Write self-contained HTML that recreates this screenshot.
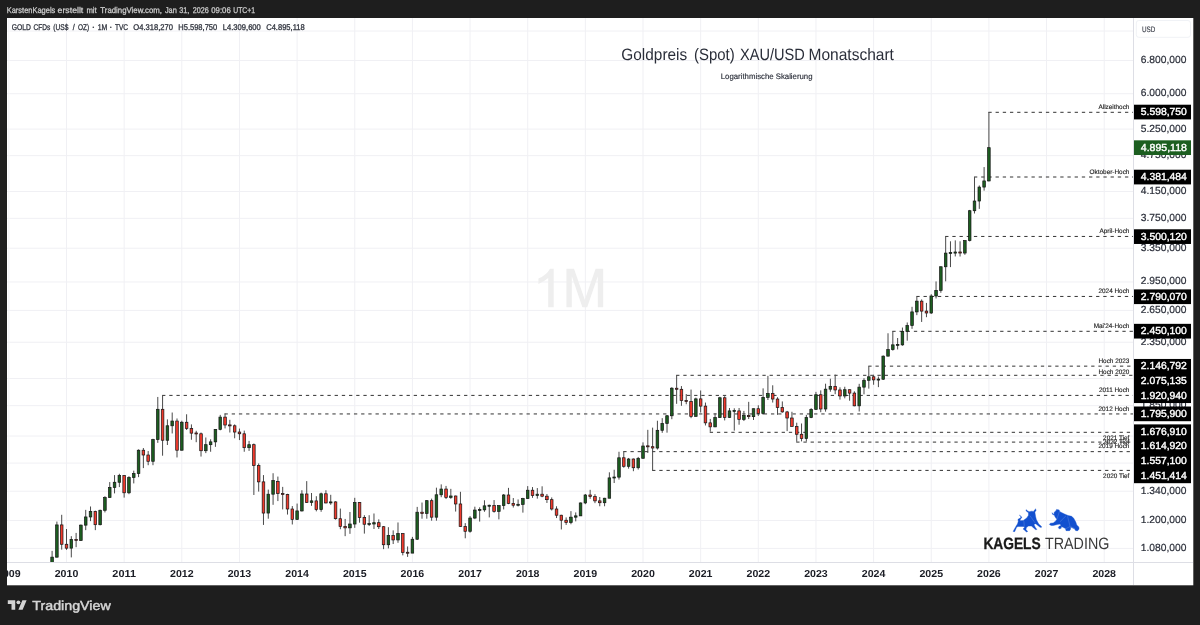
<!DOCTYPE html>
<html><head><meta charset="utf-8"><title>Goldpreis XAU/USD Monatschart</title>
<style>html,body{margin:0;padding:0;background:#1e1e1e;overflow:hidden}body{width:1200px;height:625px;font-family:"Liberation Sans",sans-serif}#wrap{width:1200px;height:625px;will-change:transform;transform:translateZ(0)}</style></head>
<body>
<div id="wrap">
<svg width="1200" height="625" viewBox="0 0 1200 625" style="display:block" text-rendering="geometricPrecision">
<rect x="0" y="0" width="1200" height="625" fill="#1e1e1e"/>
<rect x="7" y="18" width="1186.3" height="567.3" fill="#ffffff"/>
<defs><clipPath id="pane"><rect x="7" y="18" width="1126" height="544"/></clipPath><clipPath id="taxis"><rect x="7" y="562" width="1126" height="23"/></clipPath><clipPath id="paxis"><rect x="1134" y="18" width="59" height="544"/></clipPath></defs>
<g clip-path="url(#pane)">
<rect x="8.35" y="18" width="1" height="544" fill="#f0f0f4"/>
<rect x="66.00" y="18" width="1" height="544" fill="#f0f0f4"/>
<rect x="123.65" y="18" width="1" height="544" fill="#f0f0f4"/>
<rect x="181.30" y="18" width="1" height="544" fill="#f0f0f4"/>
<rect x="238.95" y="18" width="1" height="544" fill="#f0f0f4"/>
<rect x="296.60" y="18" width="1" height="544" fill="#f0f0f4"/>
<rect x="354.25" y="18" width="1" height="544" fill="#f0f0f4"/>
<rect x="411.90" y="18" width="1" height="544" fill="#f0f0f4"/>
<rect x="469.55" y="18" width="1" height="544" fill="#f0f0f4"/>
<rect x="527.20" y="18" width="1" height="544" fill="#f0f0f4"/>
<rect x="584.85" y="18" width="1" height="544" fill="#f0f0f4"/>
<rect x="642.50" y="18" width="1" height="544" fill="#f0f0f4"/>
<rect x="700.15" y="18" width="1" height="544" fill="#f0f0f4"/>
<rect x="757.80" y="18" width="1" height="544" fill="#f0f0f4"/>
<rect x="815.45" y="18" width="1" height="544" fill="#f0f0f4"/>
<rect x="873.10" y="18" width="1" height="544" fill="#f0f0f4"/>
<rect x="930.75" y="18" width="1" height="544" fill="#f0f0f4"/>
<rect x="988.40" y="18" width="1" height="544" fill="#f0f0f4"/>
<rect x="1046.05" y="18" width="1" height="544" fill="#f0f0f4"/>
<rect x="1103.70" y="18" width="1" height="544" fill="#f0f0f4"/>
<rect x="7" y="30.52" width="1126" height="1" fill="#f0f0f4"/>
<rect x="7" y="60.02" width="1126" height="1" fill="#f0f0f4"/>
<rect x="7" y="93.20" width="1126" height="1" fill="#f0f0f4"/>
<rect x="7" y="128.61" width="1126" height="1" fill="#f0f0f4"/>
<rect x="7" y="155.15" width="1126" height="1" fill="#f0f0f4"/>
<rect x="7" y="190.96" width="1126" height="1" fill="#f0f0f4"/>
<rect x="7" y="217.83" width="1126" height="1" fill="#f0f0f4"/>
<rect x="7" y="247.74" width="1126" height="1" fill="#f0f0f4"/>
<rect x="7" y="281.46" width="1126" height="1" fill="#f0f0f4"/>
<rect x="7" y="309.89" width="1126" height="1" fill="#f0f0f4"/>
<rect x="7" y="341.75" width="1126" height="1" fill="#f0f0f4"/>
<rect x="7" y="377.96" width="1126" height="1" fill="#f0f0f4"/>
<rect x="7" y="405.18" width="1126" height="1" fill="#f0f0f4"/>
<rect x="7" y="435.52" width="1126" height="1" fill="#f0f0f4"/>
<rect x="7" y="462.57" width="1126" height="1" fill="#f0f0f4"/>
<rect x="7" y="490.70" width="1126" height="1" fill="#f0f0f4"/>
<rect x="7" y="519.96" width="1126" height="1" fill="#f0f0f4"/>
<rect x="7" y="547.90" width="1126" height="1" fill="#f0f0f4"/>
<polygon points="566.40,307.20 566.40,268.80 574.00,268.80 584.80,299.70 595.60,268.80 603.20,268.80 603.20,307.20 597.80,307.20 597.80,276.30 587.20,307.20 582.40,307.20 571.80,276.30 571.80,307.20" fill="#eeeeee"/>
<path d="M548.2 307.2 V278.1 Q544 281.8 538.4 284.0 V278.6 Q546.5 275.3 550 268.8 H553.7 V307.2 Z" fill="#eeeeee"/>
</g>
<rect x="1133" y="18" width="1" height="567" fill="#dddee5"/>
<rect x="7" y="562" width="1186" height="1" fill="#dddee5"/>
<text x="621.30" y="60.30" font-family="Liberation Sans, sans-serif" font-size="16.5" fill="#2a2e39" textLength="65.90" lengthAdjust="spacingAndGlyphs" >Goldpreis</text>
<text x="694.00" y="60.30" font-family="Liberation Sans, sans-serif" font-size="16.5" fill="#2a2e39" textLength="40.70" lengthAdjust="spacingAndGlyphs" >(Spot)</text>
<text x="740.00" y="60.30" font-family="Liberation Sans, sans-serif" font-size="16.5" fill="#2a2e39" textLength="64.80" lengthAdjust="spacingAndGlyphs" >XAU/USD</text>
<text x="808.50" y="60.30" font-family="Liberation Sans, sans-serif" font-size="16.5" fill="#2a2e39" textLength="85.40" lengthAdjust="spacingAndGlyphs" >Monatschart</text>
<text x="720.80" y="79.00" font-family="Liberation Sans, sans-serif" font-size="8" fill="#2a2e39" textLength="91.70" lengthAdjust="spacingAndGlyphs" stroke="#2a2e39" stroke-width="0.15">Logarithmische Skalierung</text>
<g clip-path="url(#pane)">
<line x1="988.40" y1="112.30" x2="1133" y2="112.30" stroke="#333333" stroke-width="1" stroke-dasharray="3.3 3.89"/>
<line x1="973.99" y1="177.00" x2="1133" y2="177.00" stroke="#333333" stroke-width="1" stroke-dasharray="3.3 3.89"/>
<line x1="945.16" y1="236.45" x2="1133" y2="236.45" stroke="#333333" stroke-width="1" stroke-dasharray="3.3 3.89"/>
<line x1="916.34" y1="296.45" x2="1133" y2="296.45" stroke="#333333" stroke-width="1" stroke-dasharray="3.3 3.89"/>
<line x1="892.32" y1="331.30" x2="1133" y2="331.30" stroke="#333333" stroke-width="1" stroke-dasharray="3.3 3.89"/>
<line x1="868.30" y1="366.15" x2="1133" y2="366.15" stroke="#333333" stroke-width="1" stroke-dasharray="3.3 3.89"/>
<line x1="676.13" y1="375.30" x2="1133" y2="375.30" stroke="#333333" stroke-width="1" stroke-dasharray="3.3 3.89"/>
<line x1="162.08" y1="395.40" x2="1133" y2="395.40" stroke="#333333" stroke-width="1" stroke-dasharray="3.3 3.89"/>
<line x1="224.54" y1="413.95" x2="1133" y2="413.95" stroke="#333333" stroke-width="1" stroke-dasharray="3.3 3.89"/>
<line x1="709.76" y1="432.30" x2="1133" y2="432.30" stroke="#333333" stroke-width="1" stroke-dasharray="3.3 3.89"/>
<line x1="796.23" y1="442.10" x2="1133" y2="442.10" stroke="#333333" stroke-width="1" stroke-dasharray="3.3 3.89"/>
<line x1="623.28" y1="451.65" x2="1133" y2="451.65" stroke="#333333" stroke-width="1" stroke-dasharray="3.3 3.89"/>
<line x1="652.11" y1="470.40" x2="1133" y2="470.40" stroke="#333333" stroke-width="1" stroke-dasharray="3.3 3.89"/>
<rect x="51.59" y="550.87" width="1" height="21.68" fill="#4a4a4a"/>
<rect x="56.39" y="521.57" width="1" height="36.07" fill="#4a4a4a"/>
<rect x="61.20" y="514.78" width="1" height="34.85" fill="#4a4a4a"/>
<rect x="66.00" y="529.00" width="1" height="20.88" fill="#4a4a4a"/>
<rect x="70.80" y="536.17" width="1" height="21.22" fill="#4a4a4a"/>
<rect x="75.61" y="532.90" width="1" height="14.27" fill="#4a4a4a"/>
<rect x="80.41" y="524.47" width="1" height="16.43" fill="#4a4a4a"/>
<rect x="85.22" y="509.85" width="1" height="20.29" fill="#4a4a4a"/>
<rect x="90.02" y="506.48" width="1" height="14.65" fill="#4a4a4a"/>
<rect x="94.82" y="510.70" width="1" height="19.44" fill="#4a4a4a"/>
<rect x="99.63" y="509.64" width="1" height="15.73" fill="#4a4a4a"/>
<rect x="104.43" y="496.20" width="1" height="16.21" fill="#4a4a4a"/>
<rect x="109.24" y="482.06" width="1" height="15.55" fill="#4a4a4a"/>
<rect x="114.04" y="475.08" width="1" height="18.31" fill="#4a4a4a"/>
<rect x="118.85" y="473.78" width="1" height="13.30" fill="#4a4a4a"/>
<rect x="123.65" y="475.08" width="1" height="22.53" fill="#4a4a4a"/>
<rect x="128.45" y="476.20" width="1" height="17.99" fill="#4a4a4a"/>
<rect x="133.26" y="470.65" width="1" height="12.75" fill="#4a4a4a"/>
<rect x="138.06" y="449.37" width="1" height="27.77" fill="#4a4a4a"/>
<rect x="142.87" y="448.02" width="1" height="20.08" fill="#4a4a4a"/>
<rect x="147.67" y="451.06" width="1" height="14.15" fill="#4a4a4a"/>
<rect x="152.47" y="438.77" width="1" height="26.44" fill="#4a4a4a"/>
<rect x="157.28" y="396.94" width="1" height="45.91" fill="#4a4a4a"/>
<rect x="162.08" y="395.70" width="1" height="60.00" fill="#4a4a4a"/>
<rect x="166.89" y="419.36" width="1" height="25.65" fill="#4a4a4a"/>
<rect x="171.69" y="412.51" width="1" height="20.95" fill="#4a4a4a"/>
<rect x="176.50" y="418.46" width="1" height="38.98" fill="#4a4a4a"/>
<rect x="181.30" y="420.72" width="1" height="29.83" fill="#4a4a4a"/>
<rect x="186.10" y="414.28" width="1" height="15.71" fill="#4a4a4a"/>
<rect x="190.91" y="424.39" width="1" height="15.36" fill="#4a4a4a"/>
<rect x="195.71" y="430.77" width="1" height="11.43" fill="#4a4a4a"/>
<rect x="200.52" y="432.51" width="1" height="24.05" fill="#4a4a4a"/>
<rect x="205.32" y="437.47" width="1" height="15.64" fill="#4a4a4a"/>
<rect x="210.12" y="439.26" width="1" height="12.49" fill="#4a4a4a"/>
<rect x="214.93" y="429.20" width="1" height="17.65" fill="#4a4a4a"/>
<rect x="219.73" y="414.87" width="1" height="15.43" fill="#4a4a4a"/>
<rect x="224.54" y="413.54" width="1" height="14.88" fill="#4a4a4a"/>
<rect x="229.34" y="419.81" width="1" height="12.70" fill="#4a4a4a"/>
<rect x="234.15" y="424.39" width="1" height="13.89" fill="#4a4a4a"/>
<rect x="238.95" y="428.57" width="1" height="11.50" fill="#4a4a4a"/>
<rect x="243.75" y="430.61" width="1" height="21.13" fill="#4a4a4a"/>
<rect x="248.56" y="440.89" width="1" height="10.01" fill="#4a4a4a"/>
<rect x="253.36" y="443.52" width="1" height="51.47" fill="#4a4a4a"/>
<rect x="258.17" y="463.42" width="1" height="28.18" fill="#4a4a4a"/>
<rect x="262.97" y="475.08" width="1" height="49.84" fill="#4a4a4a"/>
<rect x="267.77" y="489.62" width="1" height="29.08" fill="#4a4a4a"/>
<rect x="272.58" y="473.23" width="1" height="31.58" fill="#4a4a4a"/>
<rect x="277.38" y="476.57" width="1" height="24.51" fill="#4a4a4a"/>
<rect x="282.19" y="486.88" width="1" height="22.54" fill="#4a4a4a"/>
<rect x="286.99" y="493.79" width="1" height="20.77" fill="#4a4a4a"/>
<rect x="291.80" y="506.06" width="1" height="18.41" fill="#4a4a4a"/>
<rect x="296.60" y="503.56" width="1" height="16.46" fill="#4a4a4a"/>
<rect x="301.40" y="490.22" width="1" height="21.34" fill="#4a4a4a"/>
<rect x="306.21" y="481.11" width="1" height="21.83" fill="#4a4a4a"/>
<rect x="311.01" y="492.99" width="1" height="12.86" fill="#4a4a4a"/>
<rect x="315.82" y="496.20" width="1" height="15.14" fill="#4a4a4a"/>
<rect x="320.62" y="492.59" width="1" height="19.18" fill="#4a4a4a"/>
<rect x="325.42" y="490.22" width="1" height="13.13" fill="#4a4a4a"/>
<rect x="330.23" y="494.79" width="1" height="10.01" fill="#4a4a4a"/>
<rect x="335.03" y="501.29" width="1" height="18.29" fill="#4a4a4a"/>
<rect x="339.84" y="508.58" width="1" height="20.64" fill="#4a4a4a"/>
<rect x="344.64" y="518.92" width="1" height="17.24" fill="#4a4a4a"/>
<rect x="349.45" y="511.98" width="1" height="21.85" fill="#4a4a4a"/>
<rect x="354.25" y="497.81" width="1" height="30.04" fill="#4a4a4a"/>
<rect x="359.05" y="502.11" width="1" height="20.57" fill="#4a4a4a"/>
<rect x="363.86" y="515.21" width="1" height="18.39" fill="#4a4a4a"/>
<rect x="368.66" y="515.21" width="1" height="10.83" fill="#4a4a4a"/>
<rect x="373.47" y="513.48" width="1" height="15.51" fill="#4a4a4a"/>
<rect x="378.27" y="519.36" width="1" height="9.64" fill="#4a4a4a"/>
<rect x="383.07" y="526.05" width="1" height="23.09" fill="#4a4a4a"/>
<rect x="387.88" y="527.18" width="1" height="21.22" fill="#4a4a4a"/>
<rect x="392.68" y="530.37" width="1" height="13.65" fill="#4a4a4a"/>
<rect x="397.49" y="522.46" width="1" height="20.35" fill="#4a4a4a"/>
<rect x="402.29" y="533.37" width="1" height="22.00" fill="#4a4a4a"/>
<rect x="407.10" y="546.44" width="1" height="10.44" fill="#4a4a4a"/>
<rect x="411.90" y="536.87" width="1" height="16.24" fill="#4a4a4a"/>
<rect x="416.70" y="506.89" width="1" height="33.05" fill="#4a4a4a"/>
<rect x="421.51" y="502.52" width="1" height="16.18" fill="#4a4a4a"/>
<rect x="426.31" y="500.06" width="1" height="18.65" fill="#4a4a4a"/>
<rect x="431.12" y="498.63" width="1" height="22.06" fill="#4a4a4a"/>
<rect x="435.92" y="487.66" width="1" height="33.02" fill="#4a4a4a"/>
<rect x="440.72" y="484.37" width="1" height="12.84" fill="#4a4a4a"/>
<rect x="445.53" y="485.91" width="1" height="13.12" fill="#4a4a4a"/>
<rect x="450.33" y="488.84" width="1" height="9.99" fill="#4a4a4a"/>
<rect x="455.14" y="495.59" width="1" height="15.96" fill="#4a4a4a"/>
<rect x="459.94" y="491.80" width="1" height="35.15" fill="#4a4a4a"/>
<rect x="464.75" y="523.13" width="1" height="15.16" fill="#4a4a4a"/>
<rect x="469.55" y="516.08" width="1" height="16.59" fill="#4a4a4a"/>
<rect x="474.35" y="506.68" width="1" height="12.46" fill="#4a4a4a"/>
<rect x="479.16" y="507.32" width="1" height="14.25" fill="#4a4a4a"/>
<rect x="483.96" y="500.26" width="1" height="11.51" fill="#4a4a4a"/>
<rect x="488.77" y="504.60" width="1" height="12.79" fill="#4a4a4a"/>
<rect x="493.57" y="500.06" width="1" height="12.57" fill="#4a4a4a"/>
<rect x="498.37" y="505.22" width="1" height="14.14" fill="#4a4a4a"/>
<rect x="503.18" y="493.99" width="1" height="15.44" fill="#4a4a4a"/>
<rect x="507.98" y="487.86" width="1" height="16.32" fill="#4a4a4a"/>
<rect x="512.79" y="498.02" width="1" height="9.51" fill="#4a4a4a"/>
<rect x="517.59" y="499.44" width="1" height="7.03" fill="#4a4a4a"/>
<rect x="522.40" y="497.81" width="1" height="14.81" fill="#4a4a4a"/>
<rect x="527.20" y="486.11" width="1" height="12.72" fill="#4a4a4a"/>
<rect x="532.00" y="487.08" width="1" height="10.74" fill="#4a4a4a"/>
<rect x="536.81" y="488.06" width="1" height="10.57" fill="#4a4a4a"/>
<rect x="541.61" y="486.30" width="1" height="10.91" fill="#4a4a4a"/>
<rect x="546.42" y="493.99" width="1" height="8.95" fill="#4a4a4a"/>
<rect x="551.22" y="497.41" width="1" height="13.08" fill="#4a4a4a"/>
<rect x="556.02" y="506.27" width="1" height="11.78" fill="#4a4a4a"/>
<rect x="560.83" y="514.78" width="1" height="14.67" fill="#4a4a4a"/>
<rect x="565.63" y="517.39" width="1" height="7.53" fill="#4a4a4a"/>
<rect x="570.44" y="511.13" width="1" height="13.12" fill="#4a4a4a"/>
<rect x="575.24" y="512.41" width="1" height="8.94" fill="#4a4a4a"/>
<rect x="580.05" y="502.52" width="1" height="13.34" fill="#4a4a4a"/>
<rect x="584.85" y="493.99" width="1" height="10.19" fill="#4a4a4a"/>
<rect x="589.65" y="489.82" width="1" height="9.01" fill="#4a4a4a"/>
<rect x="594.46" y="494.19" width="1" height="8.95" fill="#4a4a4a"/>
<rect x="599.26" y="497.00" width="1" height="9.26" fill="#4a4a4a"/>
<rect x="604.07" y="497.81" width="1" height="8.45" fill="#4a4a4a"/>
<rect x="608.87" y="472.30" width="1" height="25.92" fill="#4a4a4a"/>
<rect x="613.67" y="469.74" width="1" height="13.28" fill="#4a4a4a"/>
<rect x="618.48" y="451.75" width="1" height="27.84" fill="#4a4a4a"/>
<rect x="623.28" y="451.40" width="1" height="16.33" fill="#4a4a4a"/>
<rect x="628.09" y="457.96" width="1" height="10.69" fill="#4a4a4a"/>
<rect x="632.89" y="458.48" width="1" height="12.72" fill="#4a4a4a"/>
<rect x="637.70" y="456.91" width="1" height="12.64" fill="#4a4a4a"/>
<rect x="642.50" y="442.36" width="1" height="15.94" fill="#4a4a4a"/>
<rect x="647.30" y="429.83" width="1" height="23.11" fill="#4a4a4a"/>
<rect x="652.11" y="427.64" width="1" height="42.46" fill="#4a4a4a"/>
<rect x="656.91" y="420.72" width="1" height="28.82" fill="#4a4a4a"/>
<rect x="661.72" y="418.16" width="1" height="14.67" fill="#4a4a4a"/>
<rect x="666.52" y="415.02" width="1" height="17.65" fill="#4a4a4a"/>
<rect x="671.32" y="387.14" width="1" height="32.07" fill="#4a4a4a"/>
<rect x="676.13" y="375.25" width="1" height="28.58" fill="#4a4a4a"/>
<rect x="680.93" y="386.07" width="1" height="19.75" fill="#4a4a4a"/>
<rect x="685.74" y="394.05" width="1" height="10.21" fill="#4a4a4a"/>
<rect x="690.54" y="389.56" width="1" height="28.60" fill="#4a4a4a"/>
<rect x="695.35" y="397.64" width="1" height="18.87" fill="#4a4a4a"/>
<rect x="700.15" y="390.50" width="1" height="22.00" fill="#4a4a4a"/>
<rect x="704.95" y="402.55" width="1" height="22.92" fill="#4a4a4a"/>
<rect x="709.76" y="418.91" width="1" height="12.81" fill="#4a4a4a"/>
<rect x="714.56" y="413.24" width="1" height="13.93" fill="#4a4a4a"/>
<rect x="719.37" y="396.80" width="1" height="21.20" fill="#4a4a4a"/>
<rect x="724.17" y="396.25" width="1" height="24.17" fill="#4a4a4a"/>
<rect x="728.97" y="407.99" width="1" height="10.02" fill="#4a4a4a"/>
<rect x="733.78" y="408.28" width="1" height="22.34" fill="#4a4a4a"/>
<rect x="738.58" y="407.99" width="1" height="16.71" fill="#4a4a4a"/>
<rect x="743.39" y="410.90" width="1" height="10.13" fill="#4a4a4a"/>
<rect x="748.19" y="401.84" width="1" height="17.22" fill="#4a4a4a"/>
<rect x="753.00" y="408.57" width="1" height="11.40" fill="#4a4a4a"/>
<rect x="757.80" y="405.25" width="1" height="10.66" fill="#4a4a4a"/>
<rect x="762.60" y="388.35" width="1" height="26.38" fill="#4a4a4a"/>
<rect x="767.41" y="375.89" width="1" height="24.12" fill="#4a4a4a"/>
<rect x="772.21" y="385.28" width="1" height="17.27" fill="#4a4a4a"/>
<rect x="777.02" y="397.22" width="1" height="17.65" fill="#4a4a4a"/>
<rect x="781.82" y="401.42" width="1" height="11.24" fill="#4a4a4a"/>
<rect x="786.62" y="410.90" width="1" height="20.19" fill="#4a4a4a"/>
<rect x="791.43" y="411.77" width="1" height="14.78" fill="#4a4a4a"/>
<rect x="796.23" y="422.70" width="1" height="19.00" fill="#4a4a4a"/>
<rect x="801.04" y="423.47" width="1" height="17.91" fill="#4a4a4a"/>
<rect x="805.84" y="414.87" width="1" height="26.67" fill="#4a4a4a"/>
<rect x="810.65" y="408.13" width="1" height="10.02" fill="#4a4a4a"/>
<rect x="815.45" y="391.86" width="1" height="17.72" fill="#4a4a4a"/>
<rect x="820.25" y="390.37" width="1" height="21.84" fill="#4a4a4a"/>
<rect x="825.06" y="383.69" width="1" height="27.94" fill="#4a4a4a"/>
<rect x="829.86" y="378.72" width="1" height="13.00" fill="#4a4a4a"/>
<rect x="834.67" y="374.61" width="1" height="19.57" fill="#4a4a4a"/>
<rect x="839.47" y="387.28" width="1" height="12.32" fill="#4a4a4a"/>
<rect x="844.27" y="386.74" width="1" height="11.59" fill="#4a4a4a"/>
<rect x="849.08" y="389.56" width="1" height="11.16" fill="#4a4a4a"/>
<rect x="853.88" y="391.32" width="1" height="14.94" fill="#4a4a4a"/>
<rect x="858.69" y="383.82" width="1" height="27.66" fill="#4a4a4a"/>
<rect x="863.49" y="378.21" width="1" height="16.12" fill="#4a4a4a"/>
<rect x="868.30" y="366.21" width="1" height="22.41" fill="#4a4a4a"/>
<rect x="873.10" y="374.74" width="1" height="10.01" fill="#4a4a4a"/>
<rect x="877.90" y="376.53" width="1" height="10.61" fill="#4a4a4a"/>
<rect x="882.71" y="355.44" width="1" height="24.46" fill="#4a4a4a"/>
<rect x="887.51" y="333.26" width="1" height="23.00" fill="#4a4a4a"/>
<rect x="892.32" y="331.20" width="1" height="19.42" fill="#4a4a4a"/>
<rect x="897.12" y="338.00" width="1" height="11.46" fill="#4a4a4a"/>
<rect x="901.92" y="327.55" width="1" height="18.23" fill="#4a4a4a"/>
<rect x="906.73" y="322.47" width="1" height="18.20" fill="#4a4a4a"/>
<rect x="911.53" y="306.81" width="1" height="22.02" fill="#4a4a4a"/>
<rect x="916.34" y="296.74" width="1" height="18.40" fill="#4a4a4a"/>
<rect x="921.14" y="299.42" width="1" height="22.53" fill="#4a4a4a"/>
<rect x="925.95" y="302.90" width="1" height="14.29" fill="#4a4a4a"/>
<rect x="930.75" y="294.19" width="1" height="19.73" fill="#4a4a4a"/>
<rect x="935.55" y="281.42" width="1" height="17.04" fill="#4a4a4a"/>
<rect x="940.36" y="266.42" width="1" height="26.36" fill="#4a4a4a"/>
<rect x="945.16" y="236.62" width="1" height="44.70" fill="#4a4a4a"/>
<rect x="949.97" y="241.29" width="1" height="25.81" fill="#4a4a4a"/>
<rect x="954.77" y="240.36" width="1" height="16.08" fill="#4a4a4a"/>
<rect x="959.57" y="241.29" width="1" height="15.23" fill="#4a4a4a"/>
<rect x="964.38" y="240.13" width="1" height="14.68" fill="#4a4a4a"/>
<rect x="969.18" y="209.91" width="1" height="31.53" fill="#4a4a4a"/>
<rect x="973.99" y="177.09" width="1" height="36.40" fill="#4a4a4a"/>
<rect x="978.79" y="185.45" width="1" height="23.43" fill="#4a4a4a"/>
<rect x="983.60" y="167.06" width="1" height="23.57" fill="#4a4a4a"/>
<rect x="988.40" y="112.06" width="1" height="69.39" fill="#4a4a4a"/>
<rect x="50.79" y="557.14" width="2.6" height="9.82" fill="#1c5e20" stroke="#141414" stroke-width="0.7"/>
<rect x="55.59" y="524.92" width="2.6" height="32.22" fill="#1c5e20" stroke="#141414" stroke-width="0.7"/>
<rect x="60.40" y="524.92" width="2.6" height="19.34" fill="#f03a2d" stroke="#141414" stroke-width="0.7"/>
<rect x="65.20" y="544.26" width="2.6" height="3.90" fill="#f03a2d" stroke="#141414" stroke-width="0.7"/>
<rect x="70.00" y="539.47" width="2.6" height="8.69" fill="#1c5e20" stroke="#141414" stroke-width="0.7"/>
<rect x="74.81" y="539.44" width="2.6" height="1.00" fill="#f03a2d" stroke="#141414" stroke-width="0.7"/>
<rect x="79.61" y="525.14" width="2.6" height="15.28" fill="#1c5e20" stroke="#141414" stroke-width="0.7"/>
<rect x="84.42" y="516.95" width="2.6" height="8.19" fill="#1c5e20" stroke="#141414" stroke-width="0.7"/>
<rect x="89.22" y="511.34" width="2.6" height="5.61" fill="#1c5e20" stroke="#141414" stroke-width="0.7"/>
<rect x="94.02" y="511.34" width="2.6" height="13.35" fill="#f03a2d" stroke="#141414" stroke-width="0.7"/>
<rect x="98.83" y="510.28" width="2.6" height="14.42" fill="#1c5e20" stroke="#141414" stroke-width="0.7"/>
<rect x="103.63" y="497.61" width="2.6" height="12.66" fill="#1c5e20" stroke="#141414" stroke-width="0.7"/>
<rect x="108.44" y="487.47" width="2.6" height="10.14" fill="#1c5e20" stroke="#141414" stroke-width="0.7"/>
<rect x="113.24" y="482.25" width="2.6" height="5.22" fill="#1c5e20" stroke="#141414" stroke-width="0.7"/>
<rect x="118.05" y="475.64" width="2.6" height="6.61" fill="#1c5e20" stroke="#141414" stroke-width="0.7"/>
<rect x="122.85" y="475.64" width="2.6" height="17.15" fill="#f03a2d" stroke="#141414" stroke-width="0.7"/>
<rect x="127.65" y="477.51" width="2.6" height="15.28" fill="#1c5e20" stroke="#141414" stroke-width="0.7"/>
<rect x="132.46" y="473.60" width="2.6" height="3.92" fill="#1c5e20" stroke="#141414" stroke-width="0.7"/>
<rect x="137.26" y="450.22" width="2.6" height="23.38" fill="#1c5e20" stroke="#141414" stroke-width="0.7"/>
<rect x="142.07" y="450.22" width="2.6" height="4.79" fill="#f03a2d" stroke="#141414" stroke-width="0.7"/>
<rect x="146.87" y="455.01" width="2.6" height="6.29" fill="#f03a2d" stroke="#141414" stroke-width="0.7"/>
<rect x="151.67" y="439.58" width="2.6" height="21.71" fill="#1c5e20" stroke="#141414" stroke-width="0.7"/>
<rect x="156.48" y="409.29" width="2.6" height="30.29" fill="#1c5e20" stroke="#141414" stroke-width="0.7"/>
<rect x="161.28" y="409.29" width="2.6" height="30.94" fill="#f03a2d" stroke="#141414" stroke-width="0.7"/>
<rect x="166.09" y="425.78" width="2.6" height="14.46" fill="#1c5e20" stroke="#141414" stroke-width="0.7"/>
<rect x="170.89" y="421.03" width="2.6" height="4.75" fill="#1c5e20" stroke="#141414" stroke-width="0.7"/>
<rect x="175.70" y="421.03" width="2.6" height="29.19" fill="#f03a2d" stroke="#141414" stroke-width="0.7"/>
<rect x="180.50" y="422.24" width="2.6" height="27.97" fill="#1c5e20" stroke="#141414" stroke-width="0.7"/>
<rect x="185.30" y="422.24" width="2.6" height="6.33" fill="#f03a2d" stroke="#141414" stroke-width="0.7"/>
<rect x="190.11" y="428.57" width="2.6" height="4.57" fill="#f03a2d" stroke="#141414" stroke-width="0.7"/>
<rect x="194.91" y="432.96" width="2.6" height="1.00" fill="#f03a2d" stroke="#141414" stroke-width="0.7"/>
<rect x="199.72" y="433.78" width="2.6" height="16.94" fill="#f03a2d" stroke="#141414" stroke-width="0.7"/>
<rect x="204.52" y="444.68" width="2.6" height="6.05" fill="#1c5e20" stroke="#141414" stroke-width="0.7"/>
<rect x="209.32" y="441.87" width="2.6" height="2.81" fill="#1c5e20" stroke="#141414" stroke-width="0.7"/>
<rect x="214.13" y="429.36" width="2.6" height="12.51" fill="#1c5e20" stroke="#141414" stroke-width="0.7"/>
<rect x="218.93" y="417.11" width="2.6" height="12.25" fill="#1c5e20" stroke="#141414" stroke-width="0.7"/>
<rect x="223.74" y="417.11" width="2.6" height="7.90" fill="#f03a2d" stroke="#141414" stroke-width="0.7"/>
<rect x="228.54" y="424.89" width="2.6" height="1.00" fill="#f03a2d" stroke="#141414" stroke-width="0.7"/>
<rect x="233.35" y="425.78" width="2.6" height="6.26" fill="#f03a2d" stroke="#141414" stroke-width="0.7"/>
<rect x="238.15" y="432.03" width="2.6" height="1.75" fill="#f03a2d" stroke="#141414" stroke-width="0.7"/>
<rect x="242.95" y="433.78" width="2.6" height="13.90" fill="#f03a2d" stroke="#141414" stroke-width="0.7"/>
<rect x="247.76" y="444.68" width="2.6" height="3.01" fill="#1c5e20" stroke="#141414" stroke-width="0.7"/>
<rect x="252.56" y="444.68" width="2.6" height="20.89" fill="#f03a2d" stroke="#141414" stroke-width="0.7"/>
<rect x="257.37" y="465.57" width="2.6" height="16.30" fill="#f03a2d" stroke="#141414" stroke-width="0.7"/>
<rect x="262.17" y="481.87" width="2.6" height="31.18" fill="#f03a2d" stroke="#141414" stroke-width="0.7"/>
<rect x="266.97" y="494.19" width="2.6" height="18.87" fill="#1c5e20" stroke="#141414" stroke-width="0.7"/>
<rect x="271.78" y="480.54" width="2.6" height="13.65" fill="#1c5e20" stroke="#141414" stroke-width="0.7"/>
<rect x="276.58" y="481.49" width="2.6" height="12.10" fill="#f03a2d" stroke="#141414" stroke-width="0.7"/>
<rect x="281.39" y="493.59" width="2.6" height="1.00" fill="#f03a2d" stroke="#141414" stroke-width="0.7"/>
<rect x="286.19" y="494.59" width="2.6" height="14.41" fill="#f03a2d" stroke="#141414" stroke-width="0.7"/>
<rect x="291.00" y="509.00" width="2.6" height="10.36" fill="#f03a2d" stroke="#141414" stroke-width="0.7"/>
<rect x="295.80" y="510.91" width="2.6" height="8.45" fill="#1c5e20" stroke="#141414" stroke-width="0.7"/>
<rect x="300.60" y="493.99" width="2.6" height="16.93" fill="#1c5e20" stroke="#141414" stroke-width="0.7"/>
<rect x="305.41" y="493.99" width="2.6" height="8.53" fill="#f03a2d" stroke="#141414" stroke-width="0.7"/>
<rect x="310.21" y="500.88" width="2.6" height="1.65" fill="#1c5e20" stroke="#141414" stroke-width="0.7"/>
<rect x="315.02" y="500.88" width="2.6" height="8.76" fill="#f03a2d" stroke="#141414" stroke-width="0.7"/>
<rect x="319.82" y="493.79" width="2.6" height="15.85" fill="#1c5e20" stroke="#141414" stroke-width="0.7"/>
<rect x="324.62" y="493.79" width="2.6" height="9.15" fill="#f03a2d" stroke="#141414" stroke-width="0.7"/>
<rect x="329.43" y="501.90" width="2.6" height="1.03" fill="#1c5e20" stroke="#141414" stroke-width="0.7"/>
<rect x="334.23" y="501.90" width="2.6" height="16.80" fill="#f03a2d" stroke="#141414" stroke-width="0.7"/>
<rect x="339.04" y="518.70" width="2.6" height="7.80" fill="#f03a2d" stroke="#141414" stroke-width="0.7"/>
<rect x="343.84" y="526.50" width="2.6" height="1.36" fill="#f03a2d" stroke="#141414" stroke-width="0.7"/>
<rect x="348.65" y="524.02" width="2.6" height="3.83" fill="#1c5e20" stroke="#141414" stroke-width="0.7"/>
<rect x="353.45" y="502.52" width="2.6" height="21.50" fill="#1c5e20" stroke="#141414" stroke-width="0.7"/>
<rect x="358.25" y="502.52" width="2.6" height="15.08" fill="#f03a2d" stroke="#141414" stroke-width="0.7"/>
<rect x="363.06" y="517.61" width="2.6" height="6.64" fill="#f03a2d" stroke="#141414" stroke-width="0.7"/>
<rect x="367.86" y="523.63" width="2.6" height="1.00" fill="#1c5e20" stroke="#141414" stroke-width="0.7"/>
<rect x="372.67" y="522.68" width="2.6" height="1.34" fill="#1c5e20" stroke="#141414" stroke-width="0.7"/>
<rect x="377.47" y="522.68" width="2.6" height="4.04" fill="#f03a2d" stroke="#141414" stroke-width="0.7"/>
<rect x="382.27" y="526.72" width="2.6" height="18.02" fill="#f03a2d" stroke="#141414" stroke-width="0.7"/>
<rect x="387.08" y="535.46" width="2.6" height="9.28" fill="#1c5e20" stroke="#141414" stroke-width="0.7"/>
<rect x="391.88" y="535.46" width="2.6" height="4.48" fill="#f03a2d" stroke="#141414" stroke-width="0.7"/>
<rect x="396.69" y="533.60" width="2.6" height="6.34" fill="#1c5e20" stroke="#141414" stroke-width="0.7"/>
<rect x="401.49" y="533.60" width="2.6" height="18.76" fill="#f03a2d" stroke="#141414" stroke-width="0.7"/>
<rect x="406.30" y="552.23" width="2.6" height="1.00" fill="#f03a2d" stroke="#141414" stroke-width="0.7"/>
<rect x="411.10" y="539.23" width="2.6" height="13.88" fill="#1c5e20" stroke="#141414" stroke-width="0.7"/>
<rect x="415.90" y="512.20" width="2.6" height="27.03" fill="#1c5e20" stroke="#141414" stroke-width="0.7"/>
<rect x="420.71" y="512.20" width="2.6" height="1.29" fill="#f03a2d" stroke="#141414" stroke-width="0.7"/>
<rect x="425.51" y="500.67" width="2.6" height="12.81" fill="#1c5e20" stroke="#141414" stroke-width="0.7"/>
<rect x="430.32" y="500.67" width="2.6" height="16.50" fill="#f03a2d" stroke="#141414" stroke-width="0.7"/>
<rect x="435.12" y="494.79" width="2.6" height="22.38" fill="#1c5e20" stroke="#141414" stroke-width="0.7"/>
<rect x="439.92" y="489.03" width="2.6" height="5.75" fill="#1c5e20" stroke="#141414" stroke-width="0.7"/>
<rect x="444.73" y="489.03" width="2.6" height="8.37" fill="#f03a2d" stroke="#141414" stroke-width="0.7"/>
<rect x="449.53" y="495.99" width="2.6" height="1.41" fill="#1c5e20" stroke="#141414" stroke-width="0.7"/>
<rect x="454.34" y="495.99" width="2.6" height="7.98" fill="#f03a2d" stroke="#141414" stroke-width="0.7"/>
<rect x="459.14" y="503.97" width="2.6" height="22.53" fill="#f03a2d" stroke="#141414" stroke-width="0.7"/>
<rect x="463.95" y="526.50" width="2.6" height="4.79" fill="#f03a2d" stroke="#141414" stroke-width="0.7"/>
<rect x="468.75" y="518.04" width="2.6" height="13.24" fill="#1c5e20" stroke="#141414" stroke-width="0.7"/>
<rect x="473.55" y="510.06" width="2.6" height="7.98" fill="#1c5e20" stroke="#141414" stroke-width="0.7"/>
<rect x="478.36" y="509.46" width="2.6" height="1.00" fill="#1c5e20" stroke="#141414" stroke-width="0.7"/>
<rect x="483.16" y="505.85" width="2.6" height="4.00" fill="#1c5e20" stroke="#141414" stroke-width="0.7"/>
<rect x="487.97" y="505.24" width="2.6" height="1.00" fill="#1c5e20" stroke="#141414" stroke-width="0.7"/>
<rect x="492.77" y="505.64" width="2.6" height="5.70" fill="#f03a2d" stroke="#141414" stroke-width="0.7"/>
<rect x="497.57" y="505.64" width="2.6" height="5.70" fill="#1c5e20" stroke="#141414" stroke-width="0.7"/>
<rect x="502.38" y="494.99" width="2.6" height="10.65" fill="#1c5e20" stroke="#141414" stroke-width="0.7"/>
<rect x="507.18" y="494.99" width="2.6" height="8.36" fill="#f03a2d" stroke="#141414" stroke-width="0.7"/>
<rect x="511.99" y="503.35" width="2.6" height="1.87" fill="#f03a2d" stroke="#141414" stroke-width="0.7"/>
<rect x="516.79" y="504.30" width="2.6" height="1.00" fill="#1c5e20" stroke="#141414" stroke-width="0.7"/>
<rect x="521.60" y="498.63" width="2.6" height="5.76" fill="#1c5e20" stroke="#141414" stroke-width="0.7"/>
<rect x="526.40" y="490.22" width="2.6" height="8.41" fill="#1c5e20" stroke="#141414" stroke-width="0.7"/>
<rect x="531.20" y="490.22" width="2.6" height="5.38" fill="#f03a2d" stroke="#141414" stroke-width="0.7"/>
<rect x="536.01" y="494.19" width="2.6" height="1.40" fill="#1c5e20" stroke="#141414" stroke-width="0.7"/>
<rect x="540.81" y="494.19" width="2.6" height="2.01" fill="#f03a2d" stroke="#141414" stroke-width="0.7"/>
<rect x="545.62" y="496.20" width="2.6" height="3.45" fill="#f03a2d" stroke="#141414" stroke-width="0.7"/>
<rect x="550.42" y="499.65" width="2.6" height="9.36" fill="#f03a2d" stroke="#141414" stroke-width="0.7"/>
<rect x="555.23" y="509.00" width="2.6" height="6.21" fill="#f03a2d" stroke="#141414" stroke-width="0.7"/>
<rect x="560.03" y="515.21" width="2.6" height="5.03" fill="#f03a2d" stroke="#141414" stroke-width="0.7"/>
<rect x="564.83" y="520.24" width="2.6" height="2.22" fill="#f03a2d" stroke="#141414" stroke-width="0.7"/>
<rect x="569.64" y="517.17" width="2.6" height="5.29" fill="#1c5e20" stroke="#141414" stroke-width="0.7"/>
<rect x="574.44" y="515.86" width="2.6" height="1.31" fill="#1c5e20" stroke="#141414" stroke-width="0.7"/>
<rect x="579.25" y="502.94" width="2.6" height="12.93" fill="#1c5e20" stroke="#141414" stroke-width="0.7"/>
<rect x="584.05" y="494.99" width="2.6" height="7.95" fill="#1c5e20" stroke="#141414" stroke-width="0.7"/>
<rect x="588.85" y="494.99" width="2.6" height="1.61" fill="#f03a2d" stroke="#141414" stroke-width="0.7"/>
<rect x="593.66" y="496.60" width="2.6" height="4.28" fill="#f03a2d" stroke="#141414" stroke-width="0.7"/>
<rect x="598.46" y="500.88" width="2.6" height="1.85" fill="#f03a2d" stroke="#141414" stroke-width="0.7"/>
<rect x="603.27" y="498.22" width="2.6" height="4.51" fill="#1c5e20" stroke="#141414" stroke-width="0.7"/>
<rect x="608.07" y="477.89" width="2.6" height="20.33" fill="#1c5e20" stroke="#141414" stroke-width="0.7"/>
<rect x="612.88" y="477.01" width="2.6" height="1.00" fill="#1c5e20" stroke="#141414" stroke-width="0.7"/>
<rect x="617.68" y="457.78" width="2.6" height="19.36" fill="#1c5e20" stroke="#141414" stroke-width="0.7"/>
<rect x="622.48" y="457.78" width="2.6" height="8.51" fill="#f03a2d" stroke="#141414" stroke-width="0.7"/>
<rect x="627.29" y="459.01" width="2.6" height="7.28" fill="#1c5e20" stroke="#141414" stroke-width="0.7"/>
<rect x="632.09" y="459.01" width="2.6" height="8.73" fill="#f03a2d" stroke="#141414" stroke-width="0.7"/>
<rect x="636.90" y="458.31" width="2.6" height="9.43" fill="#1c5e20" stroke="#141414" stroke-width="0.7"/>
<rect x="641.70" y="446.01" width="2.6" height="12.30" fill="#1c5e20" stroke="#141414" stroke-width="0.7"/>
<rect x="646.50" y="445.84" width="2.6" height="1.00" fill="#f03a2d" stroke="#141414" stroke-width="0.7"/>
<rect x="651.31" y="446.68" width="2.6" height="1.34" fill="#f03a2d" stroke="#141414" stroke-width="0.7"/>
<rect x="656.11" y="430.30" width="2.6" height="17.72" fill="#1c5e20" stroke="#141414" stroke-width="0.7"/>
<rect x="660.92" y="423.47" width="2.6" height="6.83" fill="#1c5e20" stroke="#141414" stroke-width="0.7"/>
<rect x="665.72" y="415.76" width="2.6" height="7.70" fill="#1c5e20" stroke="#141414" stroke-width="0.7"/>
<rect x="670.52" y="388.21" width="2.6" height="27.55" fill="#1c5e20" stroke="#141414" stroke-width="0.7"/>
<rect x="675.33" y="388.21" width="2.6" height="1.08" fill="#f03a2d" stroke="#141414" stroke-width="0.7"/>
<rect x="680.13" y="389.29" width="2.6" height="11.29" fill="#f03a2d" stroke="#141414" stroke-width="0.7"/>
<rect x="684.94" y="400.57" width="2.6" height="1.00" fill="#f03a2d" stroke="#141414" stroke-width="0.7"/>
<rect x="689.74" y="401.56" width="2.6" height="14.80" fill="#f03a2d" stroke="#141414" stroke-width="0.7"/>
<rect x="694.55" y="398.89" width="2.6" height="17.47" fill="#1c5e20" stroke="#141414" stroke-width="0.7"/>
<rect x="699.35" y="398.89" width="2.6" height="7.22" fill="#f03a2d" stroke="#141414" stroke-width="0.7"/>
<rect x="704.15" y="406.11" width="2.6" height="16.74" fill="#f03a2d" stroke="#141414" stroke-width="0.7"/>
<rect x="708.96" y="422.85" width="2.6" height="4.01" fill="#f03a2d" stroke="#141414" stroke-width="0.7"/>
<rect x="713.76" y="417.56" width="2.6" height="9.30" fill="#1c5e20" stroke="#141414" stroke-width="0.7"/>
<rect x="718.57" y="397.78" width="2.6" height="19.78" fill="#1c5e20" stroke="#141414" stroke-width="0.7"/>
<rect x="723.37" y="397.78" width="2.6" height="19.63" fill="#f03a2d" stroke="#141414" stroke-width="0.7"/>
<rect x="728.17" y="410.90" width="2.6" height="6.51" fill="#1c5e20" stroke="#141414" stroke-width="0.7"/>
<rect x="732.98" y="410.40" width="2.6" height="1.00" fill="#1c5e20" stroke="#141414" stroke-width="0.7"/>
<rect x="737.78" y="410.90" width="2.6" height="8.47" fill="#f03a2d" stroke="#141414" stroke-width="0.7"/>
<rect x="742.59" y="415.47" width="2.6" height="3.90" fill="#1c5e20" stroke="#141414" stroke-width="0.7"/>
<rect x="747.39" y="415.47" width="2.6" height="1.19" fill="#f03a2d" stroke="#141414" stroke-width="0.7"/>
<rect x="752.20" y="408.71" width="2.6" height="7.95" fill="#1c5e20" stroke="#141414" stroke-width="0.7"/>
<rect x="757.00" y="408.71" width="2.6" height="4.68" fill="#f03a2d" stroke="#141414" stroke-width="0.7"/>
<rect x="761.80" y="397.36" width="2.6" height="16.03" fill="#1c5e20" stroke="#141414" stroke-width="0.7"/>
<rect x="766.61" y="393.50" width="2.6" height="3.86" fill="#1c5e20" stroke="#141414" stroke-width="0.7"/>
<rect x="771.41" y="393.50" width="2.6" height="5.53" fill="#f03a2d" stroke="#141414" stroke-width="0.7"/>
<rect x="776.22" y="399.03" width="2.6" height="8.52" fill="#f03a2d" stroke="#141414" stroke-width="0.7"/>
<rect x="781.02" y="407.55" width="2.6" height="4.37" fill="#f03a2d" stroke="#141414" stroke-width="0.7"/>
<rect x="785.82" y="411.92" width="2.6" height="6.09" fill="#f03a2d" stroke="#141414" stroke-width="0.7"/>
<rect x="790.63" y="418.01" width="2.6" height="8.39" fill="#f03a2d" stroke="#141414" stroke-width="0.7"/>
<rect x="795.43" y="426.40" width="2.6" height="7.86" fill="#f03a2d" stroke="#141414" stroke-width="0.7"/>
<rect x="800.24" y="434.26" width="2.6" height="4.35" fill="#f03a2d" stroke="#141414" stroke-width="0.7"/>
<rect x="805.04" y="417.56" width="2.6" height="21.05" fill="#1c5e20" stroke="#141414" stroke-width="0.7"/>
<rect x="809.85" y="409.44" width="2.6" height="8.12" fill="#1c5e20" stroke="#141414" stroke-width="0.7"/>
<rect x="814.65" y="394.73" width="2.6" height="14.70" fill="#1c5e20" stroke="#141414" stroke-width="0.7"/>
<rect x="819.45" y="394.73" width="2.6" height="14.27" fill="#f03a2d" stroke="#141414" stroke-width="0.7"/>
<rect x="824.26" y="389.15" width="2.6" height="19.85" fill="#1c5e20" stroke="#141414" stroke-width="0.7"/>
<rect x="829.06" y="386.34" width="2.6" height="2.81" fill="#1c5e20" stroke="#141414" stroke-width="0.7"/>
<rect x="833.87" y="386.34" width="2.6" height="3.62" fill="#f03a2d" stroke="#141414" stroke-width="0.7"/>
<rect x="838.67" y="389.96" width="2.6" height="6.01" fill="#f03a2d" stroke="#141414" stroke-width="0.7"/>
<rect x="843.48" y="389.69" width="2.6" height="6.28" fill="#1c5e20" stroke="#141414" stroke-width="0.7"/>
<rect x="848.28" y="389.69" width="2.6" height="3.40" fill="#f03a2d" stroke="#141414" stroke-width="0.7"/>
<rect x="853.08" y="393.09" width="2.6" height="12.74" fill="#f03a2d" stroke="#141414" stroke-width="0.7"/>
<rect x="857.89" y="387.14" width="2.6" height="18.69" fill="#1c5e20" stroke="#141414" stroke-width="0.7"/>
<rect x="862.69" y="380.28" width="2.6" height="6.86" fill="#1c5e20" stroke="#141414" stroke-width="0.7"/>
<rect x="867.50" y="376.79" width="2.6" height="3.49" fill="#1c5e20" stroke="#141414" stroke-width="0.7"/>
<rect x="872.30" y="376.79" width="2.6" height="3.10" fill="#f03a2d" stroke="#141414" stroke-width="0.7"/>
<rect x="877.10" y="379.07" width="2.6" height="1.00" fill="#1c5e20" stroke="#141414" stroke-width="0.7"/>
<rect x="881.91" y="356.15" width="2.6" height="23.09" fill="#1c5e20" stroke="#141414" stroke-width="0.7"/>
<rect x="886.71" y="349.57" width="2.6" height="6.58" fill="#1c5e20" stroke="#141414" stroke-width="0.7"/>
<rect x="891.52" y="344.86" width="2.6" height="4.71" fill="#1c5e20" stroke="#141414" stroke-width="0.7"/>
<rect x="896.32" y="344.36" width="2.6" height="1.00" fill="#1c5e20" stroke="#141414" stroke-width="0.7"/>
<rect x="901.12" y="331.42" width="2.6" height="13.44" fill="#1c5e20" stroke="#141414" stroke-width="0.7"/>
<rect x="905.93" y="325.53" width="2.6" height="5.89" fill="#1c5e20" stroke="#141414" stroke-width="0.7"/>
<rect x="910.73" y="311.90" width="2.6" height="13.63" fill="#1c5e20" stroke="#141414" stroke-width="0.7"/>
<rect x="915.54" y="301.15" width="2.6" height="10.75" fill="#1c5e20" stroke="#141414" stroke-width="0.7"/>
<rect x="920.34" y="301.15" width="2.6" height="9.94" fill="#f03a2d" stroke="#141414" stroke-width="0.7"/>
<rect x="925.15" y="311.09" width="2.6" height="1.91" fill="#f03a2d" stroke="#141414" stroke-width="0.7"/>
<rect x="929.95" y="295.98" width="2.6" height="17.02" fill="#1c5e20" stroke="#141414" stroke-width="0.7"/>
<rect x="934.75" y="290.36" width="2.6" height="5.63" fill="#1c5e20" stroke="#141414" stroke-width="0.7"/>
<rect x="939.56" y="266.76" width="2.6" height="23.60" fill="#1c5e20" stroke="#141414" stroke-width="0.7"/>
<rect x="944.36" y="253.11" width="2.6" height="13.65" fill="#1c5e20" stroke="#141414" stroke-width="0.7"/>
<rect x="949.17" y="252.61" width="2.6" height="1.00" fill="#1c5e20" stroke="#141414" stroke-width="0.7"/>
<rect x="953.97" y="251.99" width="2.6" height="1.13" fill="#1c5e20" stroke="#141414" stroke-width="0.7"/>
<rect x="958.77" y="251.99" width="2.6" height="1.05" fill="#f03a2d" stroke="#141414" stroke-width="0.7"/>
<rect x="963.58" y="240.59" width="2.6" height="12.44" fill="#1c5e20" stroke="#141414" stroke-width="0.7"/>
<rect x="968.38" y="210.73" width="2.6" height="29.86" fill="#1c5e20" stroke="#141414" stroke-width="0.7"/>
<rect x="973.19" y="201.02" width="2.6" height="9.71" fill="#1c5e20" stroke="#141414" stroke-width="0.7"/>
<rect x="977.99" y="187.08" width="2.6" height="13.94" fill="#1c5e20" stroke="#141414" stroke-width="0.7"/>
<rect x="982.80" y="180.93" width="2.6" height="6.15" fill="#1c5e20" stroke="#141414" stroke-width="0.7"/>
<rect x="987.60" y="147.67" width="2.6" height="33.25" fill="#1c5e20" stroke="#141414" stroke-width="0.7"/>
<text x="1129.4" y="109.10" font-family="Liberation Sans, sans-serif" font-size="6.4" fill="#262626" stroke="#262626" stroke-width="0.15" text-anchor="end">Allzeithoch</text>
<text x="1129.4" y="173.80" font-family="Liberation Sans, sans-serif" font-size="6.4" fill="#262626" stroke="#262626" stroke-width="0.15" text-anchor="end">Oktober-Hoch</text>
<text x="1129.4" y="233.25" font-family="Liberation Sans, sans-serif" font-size="6.4" fill="#262626" stroke="#262626" stroke-width="0.15" text-anchor="end">April-Hoch</text>
<text x="1129.4" y="293.25" font-family="Liberation Sans, sans-serif" font-size="6.4" fill="#262626" stroke="#262626" stroke-width="0.15" text-anchor="end">2024 Hoch</text>
<text x="1129.4" y="328.10" font-family="Liberation Sans, sans-serif" font-size="6.4" fill="#262626" stroke="#262626" stroke-width="0.15" text-anchor="end">Mai'24-Hoch</text>
<text x="1129.4" y="362.95" font-family="Liberation Sans, sans-serif" font-size="6.4" fill="#262626" stroke="#262626" stroke-width="0.15" text-anchor="end">Hoch 2023</text>
<text x="1129.4" y="374.00" font-family="Liberation Sans, sans-serif" font-size="6.4" fill="#262626" stroke="#262626" stroke-width="0.15" text-anchor="end">Hoch 2020</text>
<text x="1129.4" y="392.40" font-family="Liberation Sans, sans-serif" font-size="6.4" fill="#262626" stroke="#262626" stroke-width="0.15" text-anchor="end">2011 Hoch</text>
<text x="1129.4" y="410.75" font-family="Liberation Sans, sans-serif" font-size="6.4" fill="#262626" stroke="#262626" stroke-width="0.15" text-anchor="end">2012 Hoch</text>
<text x="1129.4" y="440.00" font-family="Liberation Sans, sans-serif" font-size="6.4" fill="#262626" stroke="#262626" stroke-width="0.15" text-anchor="end">2021 Tief</text>
<text x="1129.4" y="443.70" font-family="Liberation Sans, sans-serif" font-size="6.4" fill="#262626" stroke="#262626" stroke-width="0.15" text-anchor="end">2022 Tief</text>
<text x="1129.4" y="448.35" font-family="Liberation Sans, sans-serif" font-size="6.4" fill="#262626" stroke="#262626" stroke-width="0.15" text-anchor="end">2019 Hoch</text>
<text x="1129.4" y="478.10" font-family="Liberation Sans, sans-serif" font-size="6.4" fill="#262626" stroke="#262626" stroke-width="0.15" text-anchor="end">2020 Tief</text>
</g>
<g clip-path="url(#paxis)">
<text x="1140.80" y="62.92" font-family="Liberation Sans, sans-serif" font-size="10.25" fill="#2a2e39" textLength="45.60" lengthAdjust="spacingAndGlyphs" stroke="#2a2e39" stroke-width="0.2">6.800,000</text>
<text x="1140.80" y="96.10" font-family="Liberation Sans, sans-serif" font-size="10.25" fill="#2a2e39" textLength="45.60" lengthAdjust="spacingAndGlyphs" stroke="#2a2e39" stroke-width="0.2">6.000,000</text>
<text x="1140.80" y="131.51" font-family="Liberation Sans, sans-serif" font-size="10.25" fill="#2a2e39" textLength="45.60" lengthAdjust="spacingAndGlyphs" stroke="#2a2e39" stroke-width="0.2">5.250,000</text>
<text x="1140.80" y="158.05" font-family="Liberation Sans, sans-serif" font-size="10.25" fill="#2a2e39" textLength="45.60" lengthAdjust="spacingAndGlyphs" stroke="#2a2e39" stroke-width="0.2">4.750,000</text>
<text x="1140.80" y="193.86" font-family="Liberation Sans, sans-serif" font-size="10.25" fill="#2a2e39" textLength="45.60" lengthAdjust="spacingAndGlyphs" stroke="#2a2e39" stroke-width="0.2">4.150,000</text>
<text x="1140.80" y="220.73" font-family="Liberation Sans, sans-serif" font-size="10.25" fill="#2a2e39" textLength="45.60" lengthAdjust="spacingAndGlyphs" stroke="#2a2e39" stroke-width="0.2">3.750,000</text>
<text x="1140.80" y="250.64" font-family="Liberation Sans, sans-serif" font-size="10.25" fill="#2a2e39" textLength="45.60" lengthAdjust="spacingAndGlyphs" stroke="#2a2e39" stroke-width="0.2">3.350,000</text>
<text x="1140.80" y="284.36" font-family="Liberation Sans, sans-serif" font-size="10.25" fill="#2a2e39" textLength="45.60" lengthAdjust="spacingAndGlyphs" stroke="#2a2e39" stroke-width="0.2">2.950,000</text>
<text x="1140.80" y="312.79" font-family="Liberation Sans, sans-serif" font-size="10.25" fill="#2a2e39" textLength="45.60" lengthAdjust="spacingAndGlyphs" stroke="#2a2e39" stroke-width="0.2">2.650,000</text>
<text x="1140.80" y="344.65" font-family="Liberation Sans, sans-serif" font-size="10.25" fill="#2a2e39" textLength="45.60" lengthAdjust="spacingAndGlyphs" stroke="#2a2e39" stroke-width="0.2">2.350,000</text>
<text x="1140.80" y="380.86" font-family="Liberation Sans, sans-serif" font-size="10.25" fill="#2a2e39" textLength="45.60" lengthAdjust="spacingAndGlyphs" stroke="#2a2e39" stroke-width="0.2">2.050,000</text>
<text x="1140.80" y="408.08" font-family="Liberation Sans, sans-serif" font-size="10.25" fill="#2a2e39" textLength="45.60" lengthAdjust="spacingAndGlyphs" stroke="#2a2e39" stroke-width="0.2">1.850,000</text>
<text x="1140.80" y="438.42" font-family="Liberation Sans, sans-serif" font-size="10.25" fill="#2a2e39" textLength="45.60" lengthAdjust="spacingAndGlyphs" stroke="#2a2e39" stroke-width="0.2">1.650,000</text>
<text x="1140.80" y="465.47" font-family="Liberation Sans, sans-serif" font-size="10.25" fill="#2a2e39" textLength="45.60" lengthAdjust="spacingAndGlyphs" stroke="#2a2e39" stroke-width="0.2">1.490,000</text>
<text x="1140.80" y="493.60" font-family="Liberation Sans, sans-serif" font-size="10.25" fill="#2a2e39" textLength="45.60" lengthAdjust="spacingAndGlyphs" stroke="#2a2e39" stroke-width="0.2">1.340,000</text>
<text x="1140.80" y="522.86" font-family="Liberation Sans, sans-serif" font-size="10.25" fill="#2a2e39" textLength="45.60" lengthAdjust="spacingAndGlyphs" stroke="#2a2e39" stroke-width="0.2">1.200,000</text>
<text x="1140.80" y="550.80" font-family="Liberation Sans, sans-serif" font-size="10.25" fill="#2a2e39" textLength="45.60" lengthAdjust="spacingAndGlyphs" stroke="#2a2e39" stroke-width="0.2">1.080,000</text>
<rect x="1134" y="104.71" width="57" height="14.70" fill="#000"/>
<text x="1140.80" y="115.06" font-family="Liberation Sans, sans-serif" font-size="10.25" fill="#fff" textLength="46.10" lengthAdjust="spacingAndGlyphs" stroke="#fff" stroke-width="0.4">5.598,750</text>
<rect x="1134" y="169.71" width="57" height="14.70" fill="#000"/>
<text x="1140.80" y="180.06" font-family="Liberation Sans, sans-serif" font-size="10.25" fill="#fff" textLength="46.10" lengthAdjust="spacingAndGlyphs" stroke="#fff" stroke-width="0.4">4.381,484</text>
<rect x="1134" y="229.27" width="57" height="14.70" fill="#000"/>
<text x="1140.80" y="239.62" font-family="Liberation Sans, sans-serif" font-size="10.25" fill="#fff" textLength="46.10" lengthAdjust="spacingAndGlyphs" stroke="#fff" stroke-width="0.4">3.500,120</text>
<rect x="1134" y="289.39" width="57" height="14.70" fill="#000"/>
<text x="1140.80" y="299.74" font-family="Liberation Sans, sans-serif" font-size="10.25" fill="#fff" textLength="46.10" lengthAdjust="spacingAndGlyphs" stroke="#fff" stroke-width="0.4">2.790,070</text>
<rect x="1134" y="323.84" width="57" height="14.70" fill="#000"/>
<text x="1140.80" y="334.19" font-family="Liberation Sans, sans-serif" font-size="10.25" fill="#fff" textLength="46.10" lengthAdjust="spacingAndGlyphs" stroke="#fff" stroke-width="0.4">2.450,100</text>
<rect x="1134" y="358.96" width="57" height="44.10" fill="#000"/>
<text x="1140.80" y="369.31" font-family="Liberation Sans, sans-serif" font-size="10.25" fill="#fff" textLength="46.10" lengthAdjust="spacingAndGlyphs" stroke="#fff" stroke-width="0.4">2.146,792</text>
<text x="1140.80" y="384.01" font-family="Liberation Sans, sans-serif" font-size="10.25" fill="#fff" textLength="46.10" lengthAdjust="spacingAndGlyphs" stroke="#fff" stroke-width="0.4">2.075,135</text>
<text x="1140.80" y="398.71" font-family="Liberation Sans, sans-serif" font-size="10.25" fill="#fff" textLength="46.10" lengthAdjust="spacingAndGlyphs" stroke="#fff" stroke-width="0.4">1.920,940</text>
<rect x="1134" y="406.50" width="57" height="14.70" fill="#000"/>
<text x="1140.80" y="416.85" font-family="Liberation Sans, sans-serif" font-size="10.25" fill="#fff" textLength="46.10" lengthAdjust="spacingAndGlyphs" stroke="#fff" stroke-width="0.4">1.795,900</text>
<rect x="1134" y="424.38" width="57" height="58.80" fill="#000"/>
<text x="1140.80" y="434.73" font-family="Liberation Sans, sans-serif" font-size="10.25" fill="#fff" textLength="46.10" lengthAdjust="spacingAndGlyphs" stroke="#fff" stroke-width="0.4">1.676,910</text>
<text x="1140.80" y="449.43" font-family="Liberation Sans, sans-serif" font-size="10.25" fill="#fff" textLength="46.10" lengthAdjust="spacingAndGlyphs" stroke="#fff" stroke-width="0.4">1.614,920</text>
<text x="1140.80" y="464.13" font-family="Liberation Sans, sans-serif" font-size="10.25" fill="#fff" textLength="46.10" lengthAdjust="spacingAndGlyphs" stroke="#fff" stroke-width="0.4">1.557,100</text>
<text x="1140.80" y="478.83" font-family="Liberation Sans, sans-serif" font-size="10.25" fill="#fff" textLength="46.10" lengthAdjust="spacingAndGlyphs" stroke="#fff" stroke-width="0.4">1.451,414</text>
<rect x="1134" y="140.32" width="57" height="14.70" fill="#1c5e20"/>
<text x="1140.80" y="150.67" font-family="Liberation Sans, sans-serif" font-size="10.25" fill="#fff" textLength="46.10" lengthAdjust="spacingAndGlyphs" stroke="#fff" stroke-width="0.4">4.895,118</text>
</g>
<rect x="1136.3" y="20.5" width="54.2" height="16.8" rx="2.5" fill="#fff" stroke="#f0f2f6" stroke-width="1"/>
<text x="1141.90" y="31.90" font-family="Liberation Sans, sans-serif" font-size="8" fill="#3a3e49" textLength="13.30" lengthAdjust="spacingAndGlyphs" stroke="#3a3e49" stroke-width="0.15">USD</text>
<g clip-path="url(#taxis)">
<text x="-2.95" y="577.30" font-family="Liberation Sans, sans-serif" font-size="10.2" fill="#1b1d25" textLength="23.60" lengthAdjust="spacingAndGlyphs" font-weight="bold">2009</text>
<text x="54.70" y="577.30" font-family="Liberation Sans, sans-serif" font-size="10.2" fill="#1b1d25" textLength="23.60" lengthAdjust="spacingAndGlyphs" font-weight="bold">2010</text>
<text x="112.35" y="577.30" font-family="Liberation Sans, sans-serif" font-size="10.2" fill="#1b1d25" textLength="23.60" lengthAdjust="spacingAndGlyphs" font-weight="bold">2011</text>
<text x="170.00" y="577.30" font-family="Liberation Sans, sans-serif" font-size="10.2" fill="#1b1d25" textLength="23.60" lengthAdjust="spacingAndGlyphs" font-weight="bold">2012</text>
<text x="227.65" y="577.30" font-family="Liberation Sans, sans-serif" font-size="10.2" fill="#1b1d25" textLength="23.60" lengthAdjust="spacingAndGlyphs" font-weight="bold">2013</text>
<text x="285.30" y="577.30" font-family="Liberation Sans, sans-serif" font-size="10.2" fill="#1b1d25" textLength="23.60" lengthAdjust="spacingAndGlyphs" font-weight="bold">2014</text>
<text x="342.95" y="577.30" font-family="Liberation Sans, sans-serif" font-size="10.2" fill="#1b1d25" textLength="23.60" lengthAdjust="spacingAndGlyphs" font-weight="bold">2015</text>
<text x="400.60" y="577.30" font-family="Liberation Sans, sans-serif" font-size="10.2" fill="#1b1d25" textLength="23.60" lengthAdjust="spacingAndGlyphs" font-weight="bold">2016</text>
<text x="458.25" y="577.30" font-family="Liberation Sans, sans-serif" font-size="10.2" fill="#1b1d25" textLength="23.60" lengthAdjust="spacingAndGlyphs" font-weight="bold">2017</text>
<text x="515.90" y="577.30" font-family="Liberation Sans, sans-serif" font-size="10.2" fill="#1b1d25" textLength="23.60" lengthAdjust="spacingAndGlyphs" font-weight="bold">2018</text>
<text x="573.55" y="577.30" font-family="Liberation Sans, sans-serif" font-size="10.2" fill="#1b1d25" textLength="23.60" lengthAdjust="spacingAndGlyphs" font-weight="bold">2019</text>
<text x="631.20" y="577.30" font-family="Liberation Sans, sans-serif" font-size="10.2" fill="#1b1d25" textLength="23.60" lengthAdjust="spacingAndGlyphs" font-weight="bold">2020</text>
<text x="688.85" y="577.30" font-family="Liberation Sans, sans-serif" font-size="10.2" fill="#1b1d25" textLength="23.60" lengthAdjust="spacingAndGlyphs" font-weight="bold">2021</text>
<text x="746.50" y="577.30" font-family="Liberation Sans, sans-serif" font-size="10.2" fill="#1b1d25" textLength="23.60" lengthAdjust="spacingAndGlyphs" font-weight="bold">2022</text>
<text x="804.15" y="577.30" font-family="Liberation Sans, sans-serif" font-size="10.2" fill="#1b1d25" textLength="23.60" lengthAdjust="spacingAndGlyphs" font-weight="bold">2023</text>
<text x="861.80" y="577.30" font-family="Liberation Sans, sans-serif" font-size="10.2" fill="#1b1d25" textLength="23.60" lengthAdjust="spacingAndGlyphs" font-weight="bold">2024</text>
<text x="919.45" y="577.30" font-family="Liberation Sans, sans-serif" font-size="10.2" fill="#1b1d25" textLength="23.60" lengthAdjust="spacingAndGlyphs" font-weight="bold">2025</text>
<text x="977.10" y="577.30" font-family="Liberation Sans, sans-serif" font-size="10.2" fill="#1b1d25" textLength="23.60" lengthAdjust="spacingAndGlyphs" font-weight="bold">2026</text>
<text x="1034.75" y="577.30" font-family="Liberation Sans, sans-serif" font-size="10.2" fill="#1b1d25" textLength="23.60" lengthAdjust="spacingAndGlyphs" font-weight="bold">2027</text>
<text x="1092.40" y="577.30" font-family="Liberation Sans, sans-serif" font-size="10.2" fill="#1b1d25" textLength="23.60" lengthAdjust="spacingAndGlyphs" font-weight="bold">2028</text>
</g>
<text x="6.70" y="12.70" font-family="Liberation Sans, sans-serif" font-size="8.3" fill="#d0d0d0" textLength="48.60" lengthAdjust="spacingAndGlyphs" stroke="#d0d0d0" stroke-width="0.25">KarstenKagels</text>
<text x="57.60" y="12.70" font-family="Liberation Sans, sans-serif" font-size="8.3" fill="#d0d0d0" textLength="25.70" lengthAdjust="spacingAndGlyphs" stroke="#d0d0d0" stroke-width="0.25">erstellt</text>
<text x="86.40" y="12.70" font-family="Liberation Sans, sans-serif" font-size="8.3" fill="#d0d0d0" textLength="10.30" lengthAdjust="spacingAndGlyphs" stroke="#d0d0d0" stroke-width="0.25">mit</text>
<text x="100.30" y="12.70" font-family="Liberation Sans, sans-serif" font-size="8.3" fill="#d0d0d0" textLength="61.70" lengthAdjust="spacingAndGlyphs" stroke="#d0d0d0" stroke-width="0.25">TradingView.com,</text>
<text x="164.90" y="12.70" font-family="Liberation Sans, sans-serif" font-size="8.3" fill="#d0d0d0" textLength="11.90" lengthAdjust="spacingAndGlyphs" stroke="#d0d0d0" stroke-width="0.25">Jan</text>
<text x="179.30" y="12.70" font-family="Liberation Sans, sans-serif" font-size="8.3" fill="#d0d0d0" textLength="10.00" lengthAdjust="spacingAndGlyphs" stroke="#d0d0d0" stroke-width="0.25">31,</text>
<text x="192.70" y="12.70" font-family="Liberation Sans, sans-serif" font-size="8.3" fill="#d0d0d0" textLength="16.00" lengthAdjust="spacingAndGlyphs" stroke="#d0d0d0" stroke-width="0.25">2026</text>
<text x="211.30" y="12.70" font-family="Liberation Sans, sans-serif" font-size="8.3" fill="#d0d0d0" textLength="19.40" lengthAdjust="spacingAndGlyphs" stroke="#d0d0d0" stroke-width="0.25">09:06</text>
<text x="233.30" y="12.70" font-family="Liberation Sans, sans-serif" font-size="8.3" fill="#d0d0d0" textLength="21.60" lengthAdjust="spacingAndGlyphs" stroke="#d0d0d0" stroke-width="0.25">UTC+1</text>
<text x="11.70" y="30.00" font-family="Liberation Sans, sans-serif" font-size="8.3" fill="#2f333d" textLength="19.20" lengthAdjust="spacingAndGlyphs" stroke="#2f333d" stroke-width="0.3">GOLD</text>
<text x="33.60" y="30.00" font-family="Liberation Sans, sans-serif" font-size="8.3" fill="#2f333d" textLength="16.80" lengthAdjust="spacingAndGlyphs" stroke="#2f333d" stroke-width="0.3">CFDs</text>
<text x="53.30" y="30.00" font-family="Liberation Sans, sans-serif" font-size="8.3" fill="#2f333d" textLength="15.10" lengthAdjust="spacingAndGlyphs" stroke="#2f333d" stroke-width="0.3">(US$</text>
<text x="72.70" y="30.00" font-family="Liberation Sans, sans-serif" font-size="8.3" fill="#2f333d" textLength="2.00" lengthAdjust="spacingAndGlyphs" stroke="#2f333d" stroke-width="0.3">/</text>
<text x="78.00" y="30.00" font-family="Liberation Sans, sans-serif" font-size="8.3" fill="#2f333d" textLength="11.10" lengthAdjust="spacingAndGlyphs" stroke="#2f333d" stroke-width="0.3">OZ)</text>
<text x="97.70" y="30.00" font-family="Liberation Sans, sans-serif" font-size="8.3" fill="#2f333d" textLength="9.60" lengthAdjust="spacingAndGlyphs" stroke="#2f333d" stroke-width="0.3">1M</text>
<text x="114.90" y="30.00" font-family="Liberation Sans, sans-serif" font-size="8.3" fill="#2f333d" textLength="13.10" lengthAdjust="spacingAndGlyphs" stroke="#2f333d" stroke-width="0.3">TVC</text>
<text x="133.30" y="30.00" font-family="Liberation Sans, sans-serif" font-size="8.3" fill="#2f333d" textLength="39.70" lengthAdjust="spacingAndGlyphs" stroke="#2f333d" stroke-width="0.3">O4.318,270</text>
<text x="178.30" y="30.00" font-family="Liberation Sans, sans-serif" font-size="8.3" fill="#2f333d" textLength="38.90" lengthAdjust="spacingAndGlyphs" stroke="#2f333d" stroke-width="0.3">H5.598,750</text>
<text x="222.80" y="30.00" font-family="Liberation Sans, sans-serif" font-size="8.3" fill="#2f333d" textLength="38.00" lengthAdjust="spacingAndGlyphs" stroke="#2f333d" stroke-width="0.3">L4.309,600</text>
<text x="266.20" y="30.00" font-family="Liberation Sans, sans-serif" font-size="8.3" fill="#2f333d" textLength="38.50" lengthAdjust="spacingAndGlyphs" stroke="#2f333d" stroke-width="0.3">C4.895,118</text>
<circle cx="93.3" cy="27.2" r="0.8" fill="#2f333d"/><circle cx="110.8" cy="27.2" r="0.8" fill="#2f333d"/>
<g transform="translate(7.8,598.1) scale(0.53)" fill="#d4d4d4"><path d="M14 22H7V11H0V4h14v18zM28 22h-8l7.5-18h8L28 22z"/><circle cx="20" cy="8" r="3.6"/></g>
<text x="32.30" y="609.70" font-family="Liberation Sans, sans-serif" font-size="13" fill="#d4d4d4" textLength="78.40" lengthAdjust="spacingAndGlyphs" stroke="#d4d4d4" stroke-width="0.45">TradingView</text>
<text x="983.40" y="548.80" font-family="Liberation Sans, sans-serif" font-size="16.4" fill="#1a1a1a" textLength="57.30" lengthAdjust="spacingAndGlyphs" font-weight="bold" stroke="#1a1a1a" stroke-width="0.3">KAGELS</text>
<text x="1045.00" y="548.80" font-family="Liberation Sans, sans-serif" font-size="16.4" fill="#3a3a3a" textLength="64.40" lengthAdjust="spacingAndGlyphs" >TRADING</text>
<polygon points="1013.12,531.39 1016.45,525.51 1017.47,523.97 1018.24,521.41 1017.98,519.36 1020.29,518.08 1021.06,517.06 1019.37,515.01 1021.93,517.21 1020.39,519.36 1020.14,520.64 1023.36,520.39 1026.95,517.82 1028.48,515.26 1028.48,512.70 1027.46,511.94 1025.92,510.66 1026.18,509.63 1027.35,510.66 1029.10,511.68 1031.55,511.17 1033.60,511.42 1034.37,510.14 1035.65,508.86 1036.01,510.66 1034.88,511.94 1035.14,513.73 1035.65,516.80 1036.42,519.87 1038.72,523.97 1041.54,526.53 1041.28,527.55 1039.75,527.04 1036.67,524.48 1035.65,523.71 1033.86,524.48 1035.65,528.07 1036.93,529.35 1035.91,529.86 1033.60,528.07 1031.55,526.02 1028.48,526.02 1026.43,527.55 1025.92,529.60 1027.71,531.39 1026.43,531.91 1024.39,530.11 1023.10,529.09 1024.39,527.55 1023.36,526.53 1018.24,526.53 1016.70,527.04 1014.66,531.65" fill="#1250cf" stroke="#1250cf" stroke-width="0.4" stroke-linejoin="round"/>
<polygon points="1052.19,512.70 1052.45,514.24 1053.98,515.01 1054.24,512.19 1056.03,510.66 1056.54,509.38 1059.10,509.89 1059.87,511.68 1064.48,513.98 1068.07,515.52 1071.65,516.29 1073.70,518.34 1075.75,521.92 1076.77,524.99 1078.82,527.04 1079.07,529.09 1077.79,530.63 1075.75,530.63 1074.72,529.09 1072.67,528.07 1070.63,527.04 1070.63,529.09 1069.60,530.63 1066.02,530.63 1065.51,528.58 1063.46,527.55 1061.41,526.53 1061.15,528.32 1059.10,528.83 1058.34,527.55 1059.10,526.27 1060.90,525.76 1060.13,523.97 1057.31,524.48 1053.22,525.51 1051.17,525.51 1049.38,524.48 1050.40,523.20 1053.22,522.95 1055.78,520.90 1056.80,519.36 1055.01,516.80 1054.24,515.01" fill="#1250cf" stroke="#1250cf" stroke-width="0.4" stroke-linejoin="round"/>
<line x1="1030.02" y1="515.78" x2="1035.14" y2="522.95" stroke="#fff" stroke-opacity="0.3" stroke-width="0.5"/>
<line x1="1023.87" y1="520.90" x2="1024.39" y2="528.07" stroke="#fff" stroke-opacity="0.3" stroke-width="0.5"/>
<line x1="1059.36" y1="511.68" x2="1056.80" y2="519.36" stroke="#fff" stroke-opacity="0.3" stroke-width="0.5"/>
<line x1="1066.02" y1="515.78" x2="1059.87" y2="521.92" stroke="#fff" stroke-opacity="0.3" stroke-width="0.5"/>
<line x1="1067.55" y1="516.29" x2="1070.11" y2="526.53" stroke="#fff" stroke-opacity="0.3" stroke-width="0.5"/>
<line x1="1070.11" y1="526.53" x2="1066.02" y2="528.58" stroke="#fff" stroke-opacity="0.3" stroke-width="0.5"/>
<line x1="1070.63" y1="526.53" x2="1074.72" y2="528.58" stroke="#fff" stroke-opacity="0.3" stroke-width="0.5"/>
</svg>
</div>
</body></html>
